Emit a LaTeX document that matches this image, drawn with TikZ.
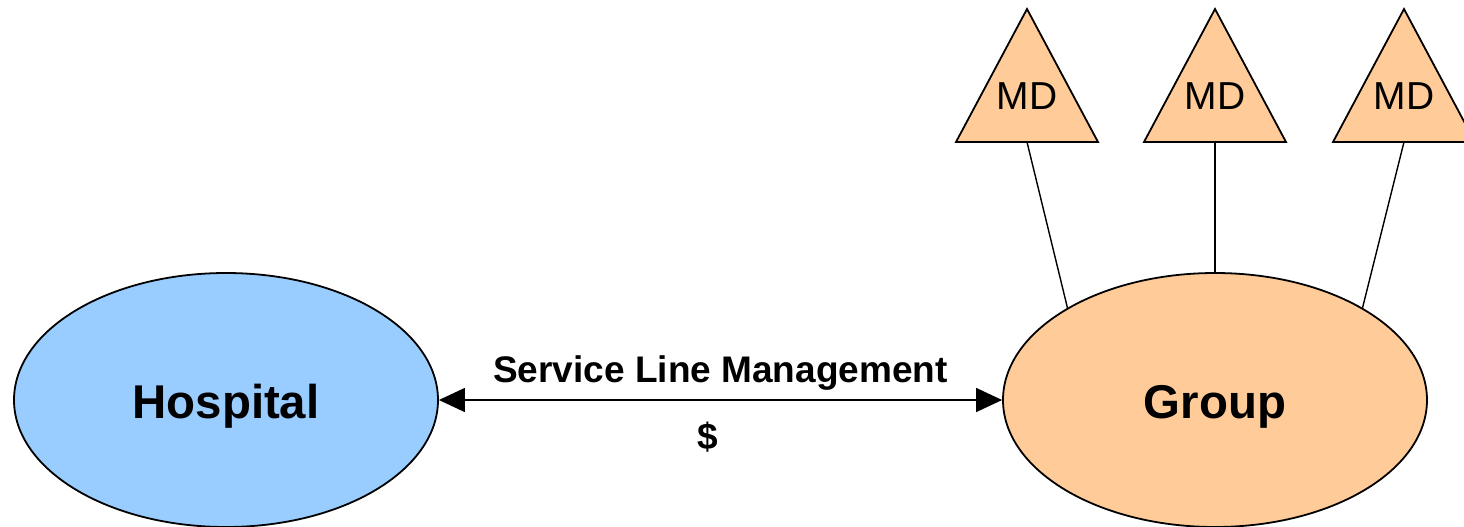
\documentclass[tikz,border=0pt]{standalone}
\usepackage{fontspec}
\setmainfont{Liberation Sans}
\usepackage{tikz}
\usetikzlibrary{shapes.geometric,arrows.meta}
\definecolor{hospblue}{HTML}{99CCFF}
\definecolor{mdorange}{HTML}{FFCC99}
\begin{document}
\begin{tikzpicture}[x = 0.5pt, y = -0.5pt,
		party/.style = {ellipse, draw, line width=0.9pt, minimum width=212pt, minimum height=127pt, inner sep=0pt, text height=18pt, text depth=0pt, font=\fontsize{23.7}{28}\selectfont\bfseries},
		mdtri/.style = {fill=mdorange, draw=black, line width=0.9pt, line join=miter},
		mdlabel/.style = {anchor=base, font=\fontsize{19.5}{23}\selectfont},
		link/.style = {line width=0.7pt},
		flowlabel/.style = {anchor=base, inner sep=0pt, font=\fontsize{18.5}{22}\selectfont\bfseries}]
		\clip (0,0) rectangle (1464,526);
		\node[party, fill=hospblue] (hosp) at (226,400) {Hospital};
		\node[party, fill=mdorange] (grp) at (1215,400) {Group};
		\foreach \x [count=\i] in {1027,1215,1404} {
			\filldraw[mdtri] (\x-71,142) -- (\x,9) -- (\x+71,142) -- cycle;
			\node[mdlabel] (md\i) at (\x,109) {MD};
			\coordinate (mdbase\i) at (\x,142);
		}
		\draw[link] (mdbase1) -- (grp.148);
		\draw[link] (mdbase2) -- (grp.north);
		\draw[link] (mdbase3) -- (grp.32);
		\draw[link, {Triangle[length=13pt,width=12pt]}-{Triangle[length=13pt,width=12pt]}] (hosp) -- (grp)
			node[flowlabel, pos=0.5, yshift=9pt] (slm) {Service Line Management}
			node[flowlabel, pos=0.477, yshift=-24.5pt] (money) {\$};
\end{tikzpicture}
\end{document}
